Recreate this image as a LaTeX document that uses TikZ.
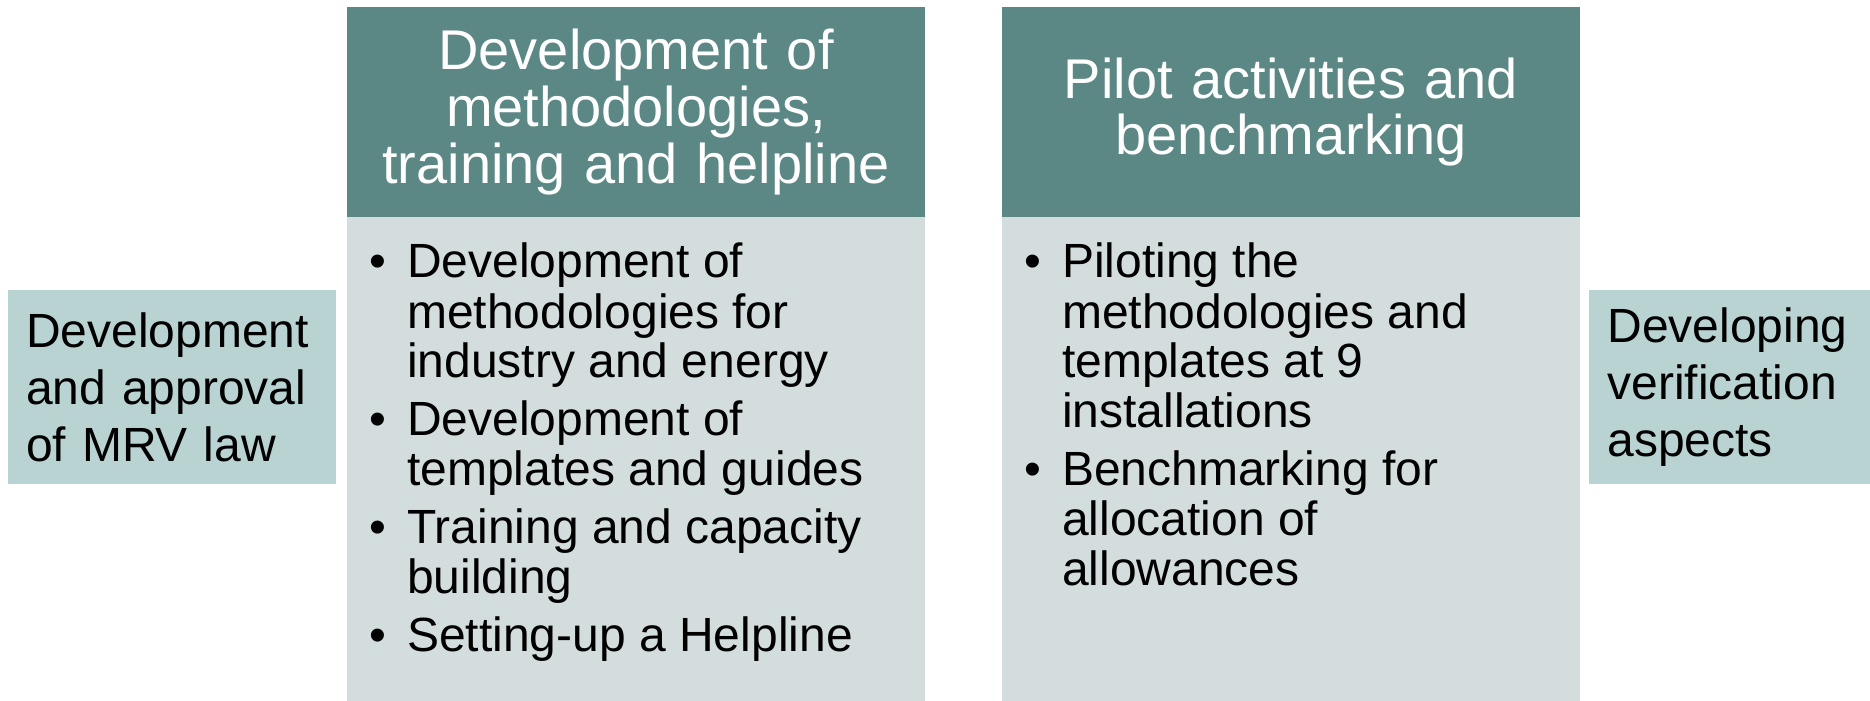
\documentclass[tikz,border=0pt]{standalone}
\usepackage{fontspec}
\setmainfont{Liberation Sans}
\usepackage{xcolor}
\usetikzlibrary{positioning}

\definecolor{headteal}{HTML}{5B8784}
\definecolor{bodygray}{HTML}{D3DDDD}
\definecolor{sidegray}{HTML}{B9D3D3}

\begin{document}
\begin{tikzpicture}[x=0.5pt, y=-0.5pt, font=\fontsize{24}{25}\selectfont]
		\tikzstyle{head} = [rectangle, fill=headteal, text=white, minimum width=289pt, minimum height=105pt, text width=270pt, align=center, inner sep=0pt, font=\fontsize{28}{28.3}\selectfont]
		\tikzstyle{body} = [rectangle, fill=bodygray, minimum width=289pt, minimum height=242pt, inner sep=0pt]
		\tikzstyle{side} = [rectangle, fill=sidegray, minimum height=97pt, inner xsep=9pt, align=left, font=\fontsize{24}{28.5}\selectfont]
		\tikzstyle{list} = [inner sep=0pt, anchor=base west]
		
		\useasboundingbox (0, 0) rectangle (1870, 701);
		
		\node[side, minimum width=164pt, text width=146pt]	at (172, 387)	(law)	{Development\\and approval\\of MRV law};
		\node[side, minimum width=140.5pt, text width=122pt]	at (1729.5, 387)	(verif)	{Developing\\verification\\aspects};
		
		\node[body]	at (636, 459)	(b1)	{};
		\node[body]	at (1291, 459)	(b2)	{};
		
		\node[head]	at (636, 112)	(h1)	{Development of\\methodologies,\\training and helpline};
		\node[head]	at (1291, 112)	(h2)	{Pilot activities and\\benchmarking};
		
		\node[list]	at (369, 278)	(l1)	{\begin{tabular}[t]{@{}l@{\hspace{10.5pt}}l@{}}
			\textbullet & Development of\\
			& methodologies for\\
			& industry and energy\\[4pt]
			\textbullet & Development of\\
			& templates and guides\\[4pt]
			\textbullet & Training and capacity\\
			& building\\[4pt]
			\textbullet & Setting-up a Helpline
		\end{tabular}};
		
		\node[list]	at (1024, 278)	(l2)	{\begin{tabular}[t]{@{}l@{\hspace{10.5pt}}l@{}}
			\textbullet & Piloting the\\
			& methodologies and\\
			& templates at 9\\
			& installations\\[4pt]
			\textbullet & Benchmarking for\\
			& allocation of\\
			& allowances
		\end{tabular}};
		
	\end{tikzpicture}
\end{document}
